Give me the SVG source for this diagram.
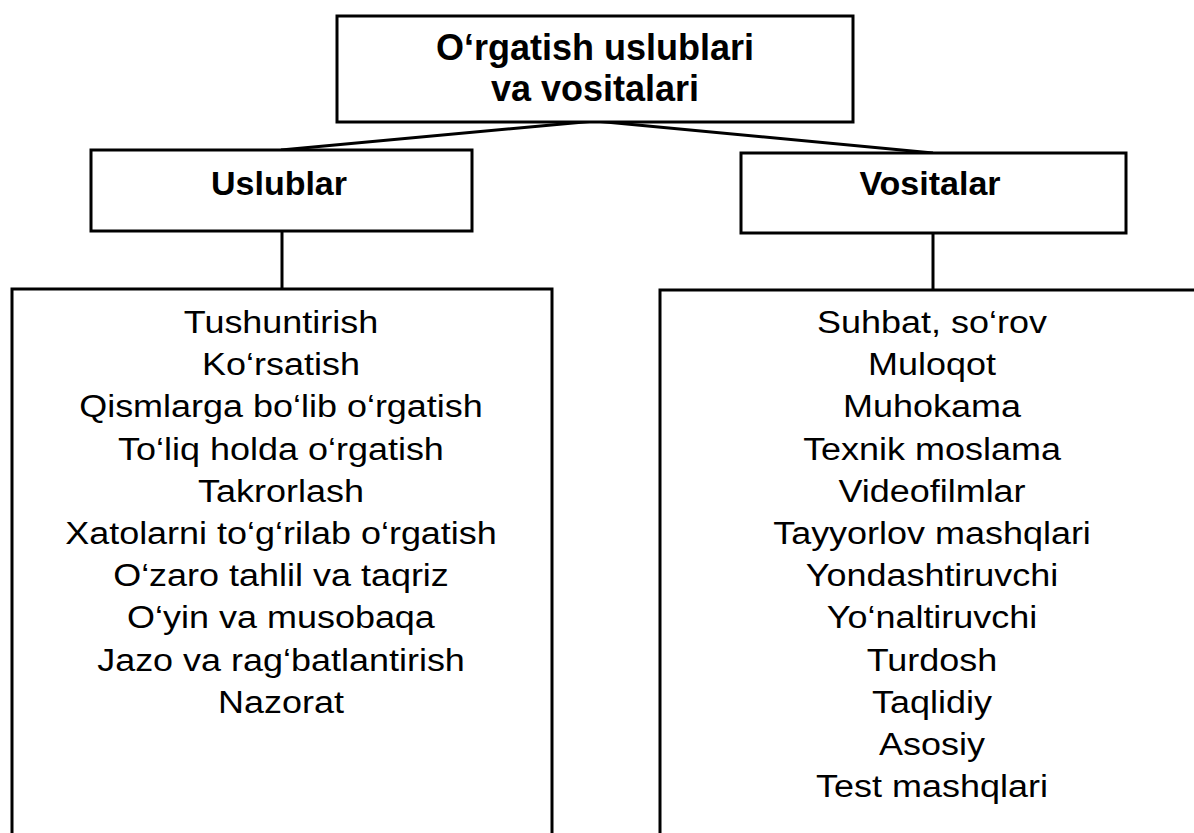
<svg xmlns="http://www.w3.org/2000/svg" width="1194" height="833" viewBox="0 0 1194 833">
<style>
.box{fill:#fff;stroke:#000;stroke-width:3}
.conn{stroke:#000;stroke-width:3;fill:none}
.head{font-family:"Liberation Sans",Arial,sans-serif;font-weight:bold;fill:#000;text-anchor:middle}
.item{font-family:"Liberation Sans",Arial,sans-serif;font-size:31px;fill:#000;text-anchor:middle}
</style>
<rect width="1194" height="833" fill="#fff"/>
<g id="connectors">
<line class="conn" x1="595" y1="121" x2="281" y2="150"/>
<line class="conn" x1="595" y1="121" x2="933" y2="153"/>
<line class="conn" x1="282" y1="231" x2="282" y2="289"/>
<line class="conn" x1="933" y1="233" x2="933" y2="290"/>
</g>
<g id="root">
<rect class="box" x="337" y="16" width="516" height="106"/>
<text class="head" font-size="36" x="595" y="60">O‘rgatish uslublari</text>
<text class="head" font-size="36" x="595" y="101">va vositalari</text>
</g>
<g id="uslublar">
<rect class="box" x="91" y="150" width="381" height="81"/>
<text class="head" font-size="34" x="279" y="195">Uslublar</text>
</g>
<g id="vositalar">
<rect class="box" x="741" y="153" width="385" height="80"/>
<text class="head" font-size="34" x="930" y="195">Vositalar</text>
</g>
<g id="uslublar-list">
<rect class="box" x="12" y="289" width="540" height="560"/>
<g transform="translate(281 0) scale(1.16 1)">
<text class="item" x="0" y="333">Tushuntirish</text>
<text class="item" x="0" y="375">Ko‘rsatish</text>
<text class="item" x="0" y="417">Qismlarga bo‘lib o‘rgatish</text>
<text class="item" x="0" y="460">To‘liq holda o‘rgatish</text>
<text class="item" x="0" y="502">Takrorlash</text>
<text class="item" x="0" y="544">Xatolarni to‘g‘rilab o‘rgatish</text>
<text class="item" x="0" y="586">O‘zaro tahlil va taqriz</text>
<text class="item" x="0" y="628">O‘yin va musobaqa</text>
<text class="item" x="0" y="671">Jazo va rag‘batlantirish</text>
<text class="item" x="0" y="713">Nazorat</text>
</g>
</g>
<g id="vositalar-list">
<rect class="box" x="660" y="290" width="560" height="560"/>
<g transform="translate(932 0) scale(1.16 1)">
<text class="item" x="0" y="333">Suhbat, so‘rov</text>
<text class="item" x="0" y="375">Muloqot</text>
<text class="item" x="0" y="417">Muhokama</text>
<text class="item" x="0" y="460">Texnik moslama</text>
<text class="item" x="0" y="502">Videofilmlar</text>
<text class="item" x="0" y="544">Tayyorlov mashqlari</text>
<text class="item" x="0" y="586">Yondashtiruvchi</text>
<text class="item" x="0" y="628">Yo‘naltiruvchi</text>
<text class="item" x="0" y="671">Turdosh</text>
<text class="item" x="0" y="713">Taqlidiy</text>
<text class="item" x="0" y="755">Asosiy</text>
<text class="item" x="0" y="797">Test mashqlari</text>
</g>
</g>
</svg>
